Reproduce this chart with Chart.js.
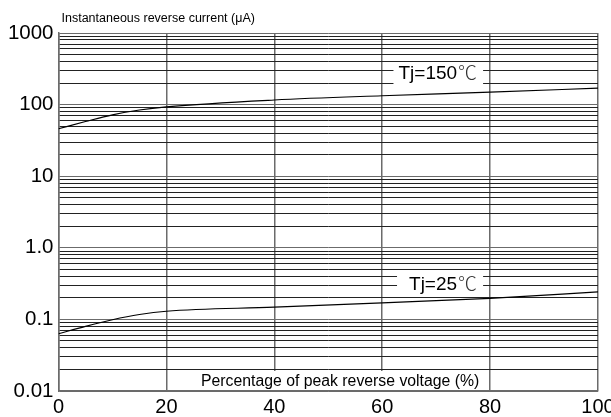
<!DOCTYPE html>
<html>
<head>
<meta charset="utf-8">
<script src="https://cdn.jsdelivr.net/npm/chart.js@4.4.1/dist/chart.umd.min.js"></script>
<style>
  html, body { margin: 0; padding: 0; background: #fff; }
  #wrap { width: 611px; height: 417px; }
</style>
</head>
<body>
<div id="wrap"><canvas id="chart"></canvas></div>
<script>
// Données
const voltagePct = [0, 5, 10, 15, 20, 40, 60, 80, 100];
const current150 = [46, 58, 72, 84, 93, 116, 133, 149, 170];
const current25 = [0.063, 0.080, 0.099, 0.117, 0.130, 0.148, 0.170, 0.197, 0.243];
const xTicks = [0, 20, 40, 60, 80, 100];
const yDecades = [0.01, 0.1, 1, 10, 100, 1000];
const yDecadeLabels = ['0.01', '0.1', '1.0', '10', '100', '1000'];
const seriesNames = ['Tj=150', 'Tj=25'];
const degreeSign = '\u2103';
// position des étiquettes : [x droite (%), valeur y centre, marge gauche px]
const labelPos = [[78.7, 275, 5], [78.7, 0.31, 12]];
const yTitle = 'Instantaneous reverse current (\u03bcA)';
const xTitle = 'Percentage of peak reverse voltage (%)';

const FONT = '"Liberation Sans", Arial, sans-serif';
const CJK = '"Noto Sans CJK SC", "Noto Sans CJK JP", sans-serif';

// toutes les lignes de grille 1..9 pour chaque décade
const yGridTicks = [];
yDecades.forEach((d, i) => {
    if (i === yDecades.length - 1) { yGridTicks.push(d); return; }
    for (let m = 1; m <= 9; m++) yGridTicks.push(+(d * m).toPrecision(3));
});

const toPoints = (ys) => voltagePct.map((x, i) => ({ x: x, y: ys[i] }));

// Plugin pour les textes (titres et étiquettes des courbes)
const textPlugin = {
    id: 'textPlugin',
    afterDatasetsDraw(chart) {
        const ctx = chart.ctx;
        const xs = chart.scales.x, ys = chart.scales.y;
        const area = chart.chartArea;
        const gap = 1;
        ctx.save();
        ctx.textBaseline = 'middle';
        // Etiquettes des courbes
        seriesNames.forEach((txt, i) => {
            const right = xs.getPixelForValue(labelPos[i][0]);
            const py = ys.getPixelForValue(labelPos[i][1]);
            ctx.font = '19px ' + FONT;
            const w1 = ctx.measureText(txt).width;
            ctx.font = '300 19px ' + CJK;
            const w2 = ctx.measureText(degreeSign).width;
            const textLeft = right - 6 - w2 - gap - w1;
            ctx.fillStyle = '#fff';
            ctx.fillRect(textLeft - labelPos[i][2], py - 11, right - textLeft + labelPos[i][2], 22);
            ctx.fillStyle = '#000';
            ctx.textAlign = 'left';
            ctx.font = '19px ' + FONT;
            ctx.fillText(txt, textLeft, py + 1);
            ctx.fillStyle = '#333';
            ctx.font = '300 19px ' + CJK;
            ctx.fillText(degreeSign, textLeft + w1 + gap, py);
        });
        // Titre de l'axe X dans la zone du graphique
        ctx.textAlign = 'center';
        ctx.font = '15.8px ' + FONT;
        const cx = xs.getPixelForValue(52.2);
        const tw = ctx.measureText(xTitle).width + 8;
        ctx.fillStyle = '#fff';
        ctx.fillRect(cx - tw / 2, area.bottom - 20, tw, 19);
        ctx.fillStyle = '#000';
        ctx.fillText(xTitle, cx, area.bottom - 9);
        // Titre de l'axe Y en haut
        ctx.font = '12.5px ' + FONT;
        ctx.textAlign = 'left';
        ctx.textBaseline = 'alphabetic';
        ctx.fillText(yTitle, area.left + 3, 22);
        ctx.restore();
    }
};

new Chart(document.getElementById('chart'), {
    type: 'line',
    data: {
        datasets: [
            {
                label: seriesNames[0],
                data: toPoints(current150),
                borderColor: '#000',
                borderWidth: 1.2,
                pointRadius: 0,
                cubicInterpolationMode: 'monotone',
                fill: false
            },
            {
                label: seriesNames[1],
                data: toPoints(current25),
                borderColor: '#000',
                borderWidth: 1.2,
                pointRadius: 0,
                cubicInterpolationMode: 'monotone',
                fill: false
            }
        ]
    },
    options: {
        responsive: true,
        maintainAspectRatio: false,
        animation: false,
        layout: { padding: { top: 33, right: 13, left: 0, bottom: 0 } },
        plugins: {
            legend: { display: false },
            tooltip: { enabled: false }
        },
        scales: {
            x: {
                type: 'linear',
                min: 0,
                max: 100,
                afterBuildTicks: (s) => { s.ticks = xTicks.map(v => ({ value: v })); },
                afterFit: (s) => { s.height = 26; s.paddingRight = 0; s.paddingLeft = 0; },
                grid: { color: '#6b6b6b', lineWidth: 1.5, drawTicks: false },
                border: { color: '#6b6b6b', width: 1.5 },
                ticks: {
                    color: '#000',
                    padding: 4,
                    font: { family: FONT, size: 20 },
                    maxRotation: 0
                }
            },
            y: {
                type: 'logarithmic',
                min: 0.01,
                max: 1000,
                afterBuildTicks: (s) => { s.ticks = yGridTicks.map(v => ({ value: v })); },
                afterFit: (s) => { s.width = 58.5; s.paddingTop = 0; s.paddingBottom = 0; },
                grid: {
                    color: (c) => yDecades.includes(c.tick.value) ? '#6b6b6b' : '#222',
                    lineWidth: 1,
                    drawTicks: false
                },
                border: { color: '#6b6b6b', width: 1.5 },
                ticks: {
                    color: '#000',
                    padding: 5,
                    autoSkip: false,
                    font: { family: FONT, size: 20.5 },
                    callback: (v) => {
                        const i = yDecades.indexOf(v);
                        return i >= 0 ? yDecadeLabels[i] : '';
                    }
                }
            }
        }
    },
    plugins: [textPlugin]
});
</script>
</body>
</html>
